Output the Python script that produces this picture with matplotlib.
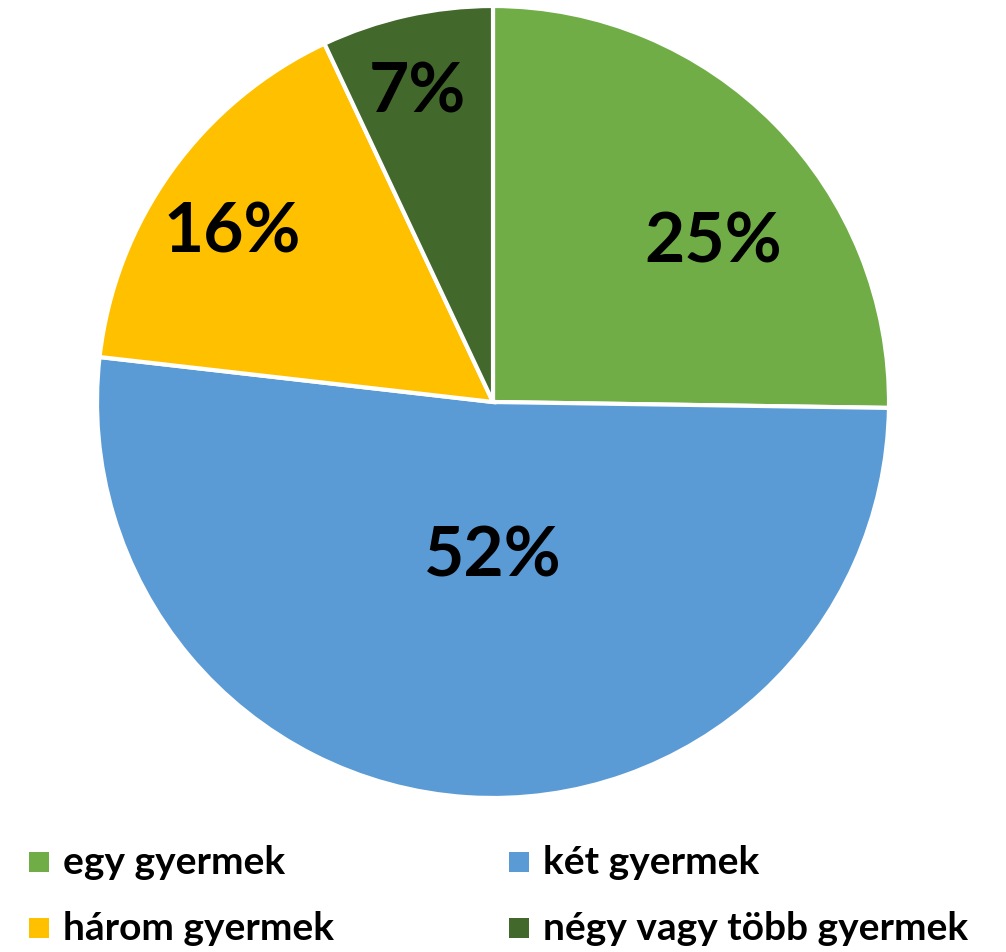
import matplotlib.pyplot as plt
from matplotlib.patches import Rectangle

categories = ["egy gyermek", "két gyermek", "három gyermek", "négy vagy több gyermek"]
shares = [25.25, 51.6, 16.2, 7.0]
pct_labels = ["25%", "52%", "16%", "7%"]
colors = ["#70AD47", "#5B9BD5", "#FFC000", "#43682B"]
# label anchor points inside the unit pie (x, y)
label_pos = [(0.556, 0.402), (0.0, -0.391), (-0.659, 0.427), (-0.192, 0.780)]

plt.rcParams["font.family"] = ["Lato", "DejaVu Sans"]

W, H = 1006, 952
fig = plt.figure(figsize=(W / 100, H / 100), dpi=100)
cx, cy, r = 493, 402, 396
ax = fig.add_axes([(cx - r) / W, 1 - (cy + r) / H, 2 * r / W, 2 * r / H])

ax.pie(shares, colors=colors, startangle=90, counterclock=False, radius=1,
       wedgeprops=dict(edgecolor="white", linewidth=3))
for txt, (x, y) in zip(pct_labels, label_pos):
    ax.text(x, y, txt, ha="center", va="center", fontsize=50, fontweight="bold", color="black")
ax.set_xlim(-1.0, 1.0)
ax.set_ylim(-1.0, 1.0)
ax.set_aspect("equal")
ax.axis("off")

# legend, two columns, laid out in figure pixels
col_x = [29, 509]
row_y = [874, 940]  # text baselines
for i, (name, c) in enumerate(zip(categories, colors)):
    x0 = col_x[i % 2]
    yb = row_y[i // 2]
    fig.patches.append(Rectangle((x0 / W, 1 - (yb - 2) / H), 20 / W, 20 / H,
                                 transform=fig.transFigure, facecolor=c, edgecolor="none"))
    fig.text((x0 + 34) / W, 1 - yb / H, name, ha="left", va="baseline",
             fontsize=28, fontweight="bold", color="black")

fig.savefig("out.png", dpi=100)
